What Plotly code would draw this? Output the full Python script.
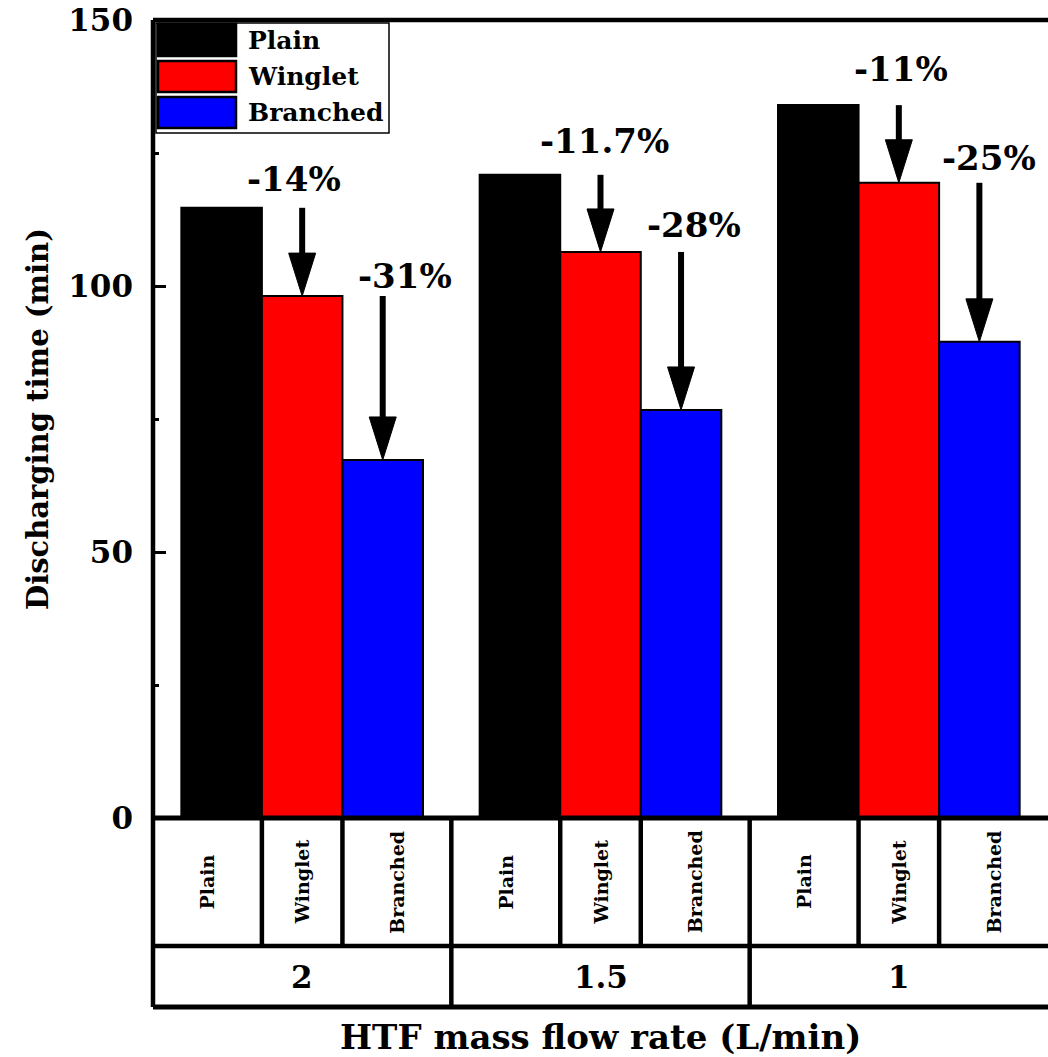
import plotly.graph_objects as go

# ---------------- data ----------------
groups = ["2", "1.5", "1"]                 # HTF mass flow rate (L/min)
series = ["Plain", "Winglet", "Branched"]
plain = [114.7, 120.9, 134.0]
winglet = [98.1, 106.4, 119.4]
branched = [67.3, 76.7, 89.5]
winglet_labels = ["-14%", "-11.7%", "-11%"]
branched_labels = ["-31%", "-28%", "-25%"]
y_ticks = [0, 50, 100, 150]

# ---------------- style / layout ----------------
colors = ["#000000", "#ff0000", "#0000ff"]
FONT = "DejaVu Serif"
W, H = 1048, 1057
ML, MR, MT, MB = 153, 0, 20, 239
PW, PH = W - ML - MR, H - MT - MB
YMAX = 150
BAR_W = 0.27
PX_X = PW / len(groups)
PX_Y = PH / YMAX


def xp(p):
    return (p - ML) / PW


def yp(p):
    return (H - MB - p) / PH


def bfont(size):
    return dict(family=FONT, size=size, color="black", weight="bold")


fig = go.Figure()
xs = list(range(len(groups)))
for name, vals, col in zip(series, [plain, winglet, branched], colors):
    fig.add_trace(go.Bar(x=xs, y=vals, name=name, marker_color=col,
                         marker_line=dict(color="black", width=2),
                         showlegend=False, hoverinfo="skip"))

shapes = []
annotations = []

# arrows + labels
label_offsets = [[(-8, 29), (22, 20)], [(4, 34), (13, 27)], [(2, 36), (10, 25)]]
head_len = 43 / PX_Y
head_hw = 13.5 / PX_X
for g in range(len(groups)):
    pairs = [(plain[g], winglet[g], 0.0, winglet_labels[g]),
             (winglet[g], branched[g], BAR_W, branched_labels[g])]
    for k, (tail, tip, xoff, lab) in enumerate(pairs):
        x = g + xoff
        shapes.append(dict(type="line", xref="x", yref="y", x0=x, x1=x,
                           y0=tail, y1=tip + head_len * 0.8,
                           line=dict(color="black", width=6)))
        shapes.append(dict(type="path", xref="x", yref="y",
                           path=f"M{x - head_hw},{tip + head_len} L{x + head_hw},{tip + head_len} L{x},{tip} Z",
                           fillcolor="black", line=dict(color="black", width=1)))
        dx, dy = label_offsets[g][k]
        annotations.append(dict(x=x, y=tail, xref="x", yref="y", text=lab,
                                showarrow=False, xshift=dx, yshift=dy,
                                xanchor="center", yanchor="middle", font=bfont(34)))

# frame lines
LW = 4.5
shapes.append(dict(type="line", xref="paper", yref="paper", x0=0, x1=1.01, y0=1, y1=1,
                   line=dict(color="black", width=LW)))
shapes.append(dict(type="line", xref="paper", yref="paper", x0=0, x1=0, y0=yp(1007), y1=1,
                   line=dict(color="black", width=LW)))
shapes.append(dict(type="line", xref="paper", yref="paper", x0=0, x1=1.01, y0=0, y1=0,
                   line=dict(color="black", width=LW + 0.5)))
# table lines
shapes.append(dict(type="line", xref="paper", yref="paper", x0=0, x1=1.01, y0=yp(946), y1=yp(946),
                   line=dict(color="black", width=LW)))
shapes.append(dict(type="line", xref="paper", yref="paper", x0=0, x1=1.01, y0=yp(1007), y1=yp(1007),
                   line=dict(color="black", width=LW + 0.5)))
for g in range(len(groups) - 1):
    shapes.append(dict(type="line", xref="x", yref="paper", x0=g + 0.5, x1=g + 0.5,
                       y0=yp(1007), y1=0, line=dict(color="black", width=LW)))
for g in range(len(groups)):
    for s in (-BAR_W / 2, BAR_W / 2):
        shapes.append(dict(type="line", xref="x", yref="paper", x0=g + s, x1=g + s,
                           y0=yp(946), y1=0, line=dict(color="black", width=LW)))

# table text
cell_c = (0.5 + BAR_W / 2) / 2
for g, gl in enumerate(groups):
    for off, nm in zip((-cell_c, 0, cell_c), series):
        annotations.append(dict(x=g + off, y=yp(882), xref="x", yref="paper", text=nm,
                                textangle=-90, showarrow=False, xanchor="center",
                                yanchor="middle", font=bfont(19)))
    annotations.append(dict(x=g, y=yp(977), xref="x", yref="paper", text=gl,
                            showarrow=False, xanchor="center", yanchor="middle",
                            font=bfont(31)))

# axis titles
annotations.append(dict(x=xp(600), y=yp(1037), xref="paper", yref="paper",
                        text="HTF mass flow rate (L/min)", showarrow=False,
                        xanchor="center", yanchor="middle", font=bfont(34)))
annotations.append(dict(x=xp(38), y=yp(419), xref="paper", yref="paper",
                        text="Discharging time (min)", textangle=-90, showarrow=False,
                        xanchor="center", yanchor="middle", font=bfont(29)))

# legend (drawn manually for large swatches)
shapes.append(dict(type="rect", xref="paper", yref="paper", x0=xp(156), x1=xp(389),
                   y0=yp(133), y1=yp(23), fillcolor="white",
                   line=dict(color="black", width=1.5)))
sw_top = [24, 61, 97]
sw_bot = [56, 92, 128]
for nm, col, t, b in zip(series, colors, sw_top, sw_bot):
    shapes.append(dict(type="rect", xref="paper", yref="paper", x0=xp(158), x1=xp(236),
                       y0=yp(b), y1=yp(t), fillcolor=col,
                       line=dict(color="black", width=2.5)))
    annotations.append(dict(x=xp(246), y=yp((t + b) / 2), xref="paper", yref="paper",
                            text=nm, showarrow=False, xanchor="left", yanchor="middle",
                            font=bfont(25)))

fig.update_layout(
    width=W, height=H,
    margin=dict(l=ML, r=MR, t=MT, b=MB, pad=0),
    paper_bgcolor="white", plot_bgcolor="white",
    barmode="group", bargap=0.19, bargroupgap=0,
    shapes=shapes, annotations=annotations,
    xaxis=dict(range=[-0.5, len(groups) - 0.5], showticklabels=False, ticks="",
               showgrid=False, zeroline=False, showline=False),
    yaxis=dict(range=[0, YMAX], tickvals=y_ticks, ticks="inside", ticklen=13,
               tickwidth=3, tickcolor="black", showgrid=False, zeroline=False,
               showline=False, tickfont=bfont(31), ticklabelstandoff=19,
               minor=dict(dtick=25, ticks="inside", ticklen=6, tickwidth=3,
                          tickcolor="black", showgrid=False)),
)

fig.write_html("out.html", config={"displayModeBar": False},
               post_script="document.body.style.margin='0px';document.body.style.overflow='hidden';")
